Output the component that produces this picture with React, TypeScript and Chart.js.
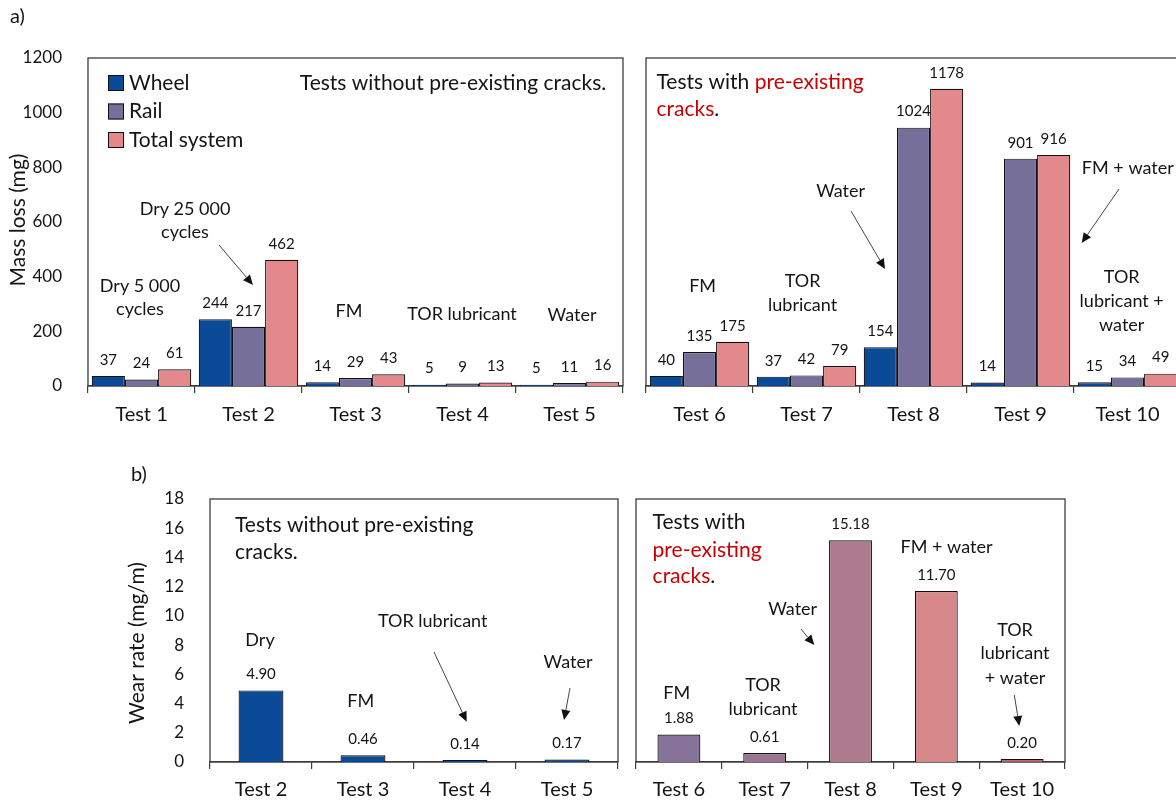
import React, { useEffect, useRef } from 'react';
import { Chart, registerables } from 'chart.js';

Chart.register(...registerables);

const FONT = 'Lato, "Open Sans", sans-serif';
const INK = '#141414';
const RED = '#cc0000';
const AXIS = '#3c3c3c';

// Mass loss (mg) – tests without pre-existing cracks
const massTestsPlain = ['Test 1', 'Test 2', 'Test 3', 'Test 4', 'Test 5'];
const wheelPlain = [37, 244, 14, 5, 5];
const railPlain = [24, 217, 29, 9, 11];
const totalPlain = [61, 462, 43, 13, 16];

// Mass loss (mg) – tests with pre-existing cracks
const massTestsCracked = ['Test 6', 'Test 7', 'Test 8', 'Test 9', 'Test 10'];
const wheelCracked = [40, 37, 154, 14, 15];
const railCracked = [135, 42, 1024, 901, 34];
const totalCracked = [175, 79, 1178, 916, 49];

const seriesNames = ['Wheel', 'Rail', 'Total system'];
const seriesColors = ['#0b4a96', '#766f9a', '#e4898b'];

const massAxisMax = 1200;
const massAxisStep = 200;
const massAxisMaxCracked = 1300;

// Wear rate (mg/m)
const rateTestsPlain = ['Test 2', 'Test 3', 'Test 4', 'Test 5'];
const ratePlain = [4.9, 0.46, 0.14, 0.17];
const rateTestsCracked = ['Test 6', 'Test 7', 'Test 8', 'Test 9', 'Test 10'];
const rateCracked = [1.88, 0.61, 15.18, 11.7, 0.2];
const rateColorPlain = '#0b4a96';
const rateColorsCracked = ['#87729a', '#9a7493', '#ae7b8e', '#d5878a', '#a9585f'];
const rateAxisMax = 18;
const rateAxisStep = 2;

type Seg = { s: string; c?: string };
type Note = { text: string | Seg[]; x: number; y: number; align?: 'left' | 'center'; size?: number };
type Arrow = [number, number, number, number];
type Decor = {
  notes: Note[];
  arrows: Arrow[];
  format: (v: number) => string;
  legend?: { x: number; y: number; gap: number };
  yTitle?: { text: string; x: number; y: number };
  tag?: { text: string; x: number; y: number };
};

function drawNote(ctx: CanvasRenderingContext2D, n: Note, ox: number, oy: number) {
  ctx.font = `${n.size ?? 18}px ${FONT}`;
  ctx.textBaseline = 'middle';
  ctx.textAlign = 'left';
  const segs: Seg[] = typeof n.text === 'string' ? [{ s: n.text }] : n.text;
  const total = segs.reduce((w, sg) => w + ctx.measureText(sg.s).width, 0);
  let x = ox + n.x - (n.align === 'left' ? 0 : total / 2);
  for (const sg of segs) {
    ctx.fillStyle = sg.c ?? INK;
    ctx.fillText(sg.s, x, oy + n.y);
    x += ctx.measureText(sg.s).width;
  }
}

function drawArrow(ctx: CanvasRenderingContext2D, a: Arrow, ox: number, oy: number) {
  const [x1, y1, x2, y2] = a;
  const ang = Math.atan2(y2 - y1, x2 - x1);
  const L = 10;
  const W = 4.5;
  const c = Math.cos(ang);
  const s = Math.sin(ang);
  ctx.strokeStyle = '#454545';
  ctx.lineWidth = 1;
  ctx.beginPath();
  ctx.moveTo(ox + x1, oy + y1);
  ctx.lineTo(ox + x2 - L * c, oy + y2 - L * s);
  ctx.stroke();
  ctx.fillStyle = '#111';
  ctx.beginPath();
  ctx.moveTo(ox + x2, oy + y2);
  ctx.lineTo(ox + x2 - L * c + W * s, oy + y2 - L * s - W * c);
  ctx.lineTo(ox + x2 - L * c - W * s, oy + y2 - L * s + W * c);
  ctx.closePath();
  ctx.fill();
}

function decorPlugin(d: Decor) {
  return {
    id: 'decor',
    beforeDatasetsDraw(chart: any) {
      const { ctx, chartArea: ca } = chart;
      ctx.save();
      ctx.strokeStyle = AXIS;
      ctx.lineWidth = 1.3;
      ctx.strokeRect(ca.left, ca.top, ca.right - ca.left, ca.bottom - ca.top);
      ctx.restore();
    },
    afterDatasetsDraw(chart: any) {
      const { ctx, chartArea: ca } = chart;
      const ox = ca.left;
      const oy = ca.top;
      ctx.save();
      // value labels above each bar
      ctx.font = `15px ${FONT}`;
      ctx.fillStyle = INK;
      ctx.textAlign = 'center';
      ctx.textBaseline = 'middle';
      chart.data.datasets.forEach((ds: any, i: number) => {
        const meta = chart.getDatasetMeta(i);
        meta.data.forEach((el: any, j: number) => {
          ctx.fillText(d.format(ds.data[j]), el.x, el.y - 16);
        });
      });
      d.notes.forEach((n) => drawNote(ctx, n, ox, oy));
      d.arrows.forEach((a) => drawArrow(ctx, a, ox, oy));
      if (d.legend) {
        const lg = d.legend;
        chart.data.datasets.forEach((ds: any, i: number) => {
          const cy = oy + lg.y + i * lg.gap;
          ctx.fillStyle = ds.backgroundColor;
          ctx.fillRect(ox + lg.x, cy - 8, 16, 16);
          ctx.strokeStyle = '#111';
          ctx.lineWidth = 1;
          ctx.strokeRect(ox + lg.x + 0.5, cy - 7.5, 15, 15);
          ctx.fillStyle = INK;
          ctx.font = `21px ${FONT}`;
          ctx.textAlign = 'left';
          ctx.textBaseline = 'middle';
          ctx.fillText(ds.label, ox + lg.x + 21, cy);
        });
      }
      if (d.yTitle) {
        ctx.save();
        ctx.translate(ox + d.yTitle.x, oy + d.yTitle.y);
        ctx.rotate(-Math.PI / 2);
        ctx.font = `21px ${FONT}`;
        ctx.fillStyle = INK;
        ctx.textAlign = 'center';
        ctx.textBaseline = 'middle';
        ctx.fillText(d.yTitle.text, 0, 0);
        ctx.restore();
      }
      if (d.tag) {
        ctx.font = `20px ${FONT}`;
        ctx.fillStyle = INK;
        ctx.textAlign = 'left';
        ctx.textBaseline = 'middle';
        ctx.fillText(d.tag.text, ox + d.tag.x, oy + d.tag.y);
      }
      ctx.restore();
    },
  };
}

type Pad = { top: number; left: number; right: number; bottom: number };

function barConfig(o: {
  labels: string[];
  datasets: any[];
  yMax: number;
  yStep: number;
  showY: boolean;
  yWidth: number;
  xHeight: number;
  padding: Pad;
  catPct: number;
  labelPad: number;
  decor: Decor;
}): any {
  return {
    type: 'bar',
    data: { labels: o.labels, datasets: o.datasets },
    plugins: [decorPlugin(o.decor)],
    options: {
      responsive: false,
      animation: false,
      devicePixelRatio: 1,
      layout: { padding: o.padding },
      datasets: {
        bar: {
          categoryPercentage: o.catPct,
          barPercentage: 1,
          borderWidth: 1.2,
          borderColor: '#111',
        },
      },
      plugins: { legend: { display: false }, tooltip: { enabled: false } },
      scales: {
        x: {
          grid: {
            display: true,
            drawOnChartArea: false,
            drawTicks: true,
            tickLength: 7,
            color: AXIS,
            lineWidth: 1.2,
          },
          border: { display: true, color: AXIS, width: 1.3 },
          ticks: {
            font: { family: FONT, size: 20 },
            color: INK,
            padding: o.labelPad,
            maxRotation: 0,
            autoSkip: false,
          },
          afterFit: (s: any) => {
            s.height = o.xHeight;
          },
        },
        y: {
          display: o.showY,
          min: 0,
          max: o.yMax,
          grid: { display: false },
          border: { display: false },
          ticks: {
            stepSize: o.yStep,
            font: { family: FONT, size: 17 },
            color: INK,
            padding: 18,
            callback: (v: any) => String(v),
          },
          afterFit: (s: any) => {
            s.width = o.yWidth;
          },
        },
      },
    },
  };
}

function massSets(wheel: number[], rail: number[], total: number[]) {
  return [wheel, rail, total].map((data, i) => ({
    label: seriesNames[i],
    data,
    backgroundColor: seriesColors[i],
  }));
}

type Box = { left: number; top: number; width: number; height: number };

function ChartPanel({ box, make }: { box: Box; make: () => any }) {
  const ref = useRef<HTMLCanvasElement>(null);
  useEffect(() => {
    const chart = new Chart(ref.current as HTMLCanvasElement, make());
    return () => chart.destroy();
  }, []);
  return (
    <canvas
      ref={ref}
      width={box.width}
      height={box.height}
      style={{ position: 'absolute', left: box.left, top: box.top, width: box.width, height: box.height }}
    />
  );
}

const intLabel = (v: number) => String(v);
const rateLabel = (v: number) => v.toFixed(2);

const massPlainChart = () =>
  barConfig({
    labels: massTestsPlain,
    datasets: massSets(wheelPlain, railPlain, totalPlain),
    yMax: massAxisMax,
    yStep: massAxisStep,
    showY: true,
    yWidth: 88,
    xHeight: 54,
    padding: { top: 58, left: 0, right: 17, bottom: 0 },
    catPct: 0.93,
    labelPad: 10,
    decor: {
      format: intLabel,
      notes: [
        { text: 'Tests without pre-existing cracks.', x: 365, y: 25, size: 21 },
        { text: 'Dry 5 000', x: 52, y: 228 },
        { text: 'cycles', x: 52, y: 251 },
        { text: 'Dry 25 000', x: 97, y: 151 },
        { text: 'cycles', x: 97, y: 174 },
        { text: 'FM', x: 261, y: 253 },
        { text: 'TOR lubricant', x: 374, y: 256 },
        { text: 'Water', x: 484, y: 257 },
      ],
      arrows: [[131, 187, 165, 227]],
      legend: { x: 20, y: 25, gap: 28.5 },
      yTitle: { text: 'Mass loss (mg)', x: -70, y: 162 },
      tag: { text: 'a)', x: -78, y: -41 },
    },
  });

const massCrackedChart = () =>
  barConfig({
    labels: massTestsCracked,
    datasets: massSets(wheelCracked, railCracked, totalCracked),
    yMax: massAxisMaxCracked,
    yStep: massAxisStep,
    showY: false,
    yWidth: 0,
    xHeight: 54,
    padding: { top: 58, left: 16, right: 9, bottom: 0 },
    catPct: 0.93,
    labelPad: 10,
    decor: {
      format: intLabel,
      notes: [
        { text: [{ s: 'Tests with ' }, { s: 'pre-existing', c: RED }], x: 10.5, y: 24, align: 'left', size: 21 },
        { text: [{ s: 'cracks', c: RED }, { s: '.' }], x: 10.5, y: 51, align: 'left', size: 21 },
        { text: 'FM', x: 56.6, y: 228 },
        { text: 'TOR', x: 156.6, y: 222.7 },
        { text: 'lubricant', x: 156.6, y: 247 },
        { text: 'Water', x: 194.6, y: 132.7 },
        { text: 'FM + water', x: 481.8, y: 110 },
        { text: 'TOR', x: 475.7, y: 219 },
        { text: 'lubricant +', x: 475.7, y: 242.7 },
        { text: 'water', x: 475.7, y: 267 },
      ],
      arrows: [
        [205, 153, 239, 211],
        [473, 131, 435.7, 185],
      ],
    },
  });

const ratePlainChart = () =>
  barConfig({
    labels: rateTestsPlain,
    datasets: [{ label: 'Wear rate', data: ratePlain, backgroundColor: rateColorPlain }],
    yMax: rateAxisMax,
    yStep: rateAxisStep,
    showY: true,
    yWidth: 110,
    xHeight: 42,
    padding: { top: 49, left: 0, right: 7, bottom: 0 },
    catPct: 0.44,
    labelPad: 9,
    decor: {
      format: rateLabel,
      notes: [
        { text: 'Tests without pre-existing', x: 25, y: 26, align: 'left', size: 21 },
        { text: 'cracks.', x: 25, y: 53, align: 'left', size: 21 },
        { text: 'Dry', x: 50, y: 141 },
        { text: 'FM', x: 150.7, y: 201.7 },
        { text: 'TOR lubricant', x: 222.7, y: 122 },
        { text: 'Water', x: 358, y: 162.7 },
      ],
      arrows: [
        [224, 153, 256.7, 222.7],
        [360, 189, 354, 221],
      ],
      yTitle: { text: 'Wear rate (mg/m)', x: -73, y: 144 },
      tag: { text: 'b)', x: -79, y: -24 },
    },
  });

const rateCrackedChart = () =>
  barConfig({
    labels: rateTestsCracked,
    datasets: [{ label: 'Wear rate', data: rateCracked, backgroundColor: rateColorsCracked }],
    yMax: rateAxisMax,
    yStep: rateAxisStep,
    showY: false,
    yWidth: 0,
    xHeight: 42,
    padding: { top: 49, left: 10, right: 11, bottom: 0 },
    catPct: 0.5,
    labelPad: 9,
    decor: {
      format: rateLabel,
      notes: [
        { text: 'Tests with', x: 16.6, y: 23, align: 'left', size: 21 },
        { text: [{ s: 'pre-existing', c: RED }], x: 16.6, y: 51, align: 'left', size: 21 },
        { text: [{ s: 'cracks', c: RED }, { s: '.' }], x: 16.6, y: 77.7, align: 'left', size: 21 },
        { text: 'FM + water', x: 310.5, y: 47.7 },
        { text: 'Water', x: 156.7, y: 110 },
        { text: 'FM', x: 40.7, y: 194.3 },
        { text: 'TOR', x: 127, y: 186 },
        { text: 'lubricant', x: 127, y: 210.3 },
        { text: 'TOR', x: 379, y: 131 },
        { text: 'lubricant', x: 379, y: 154.3 },
        { text: '+ water', x: 379, y: 178.7 },
      ],
      arrows: [
        [164.9, 130, 178.3, 146],
        [378.3, 196, 383.3, 227],
      ],
    },
  });

export default function App() {
  return (
    <div
      style={{
        position: 'absolute',
        left: 0,
        top: 0,
        width: 1176,
        height: 804,
        overflow: 'hidden',
        background: '#fff',
      }}
    >
      <ChartPanel box={{ left: 0, top: 0, width: 640, height: 440 }} make={massPlainChart} />
      <ChartPanel box={{ left: 630, top: 0, width: 560, height: 440 }} make={massCrackedChart} />
      <ChartPanel box={{ left: 100, top: 450, width: 525, height: 354 }} make={ratePlainChart} />
      <ChartPanel box={{ left: 626, top: 450, width: 450, height: 354 }} make={rateCrackedChart} />
    </div>
  );
}
